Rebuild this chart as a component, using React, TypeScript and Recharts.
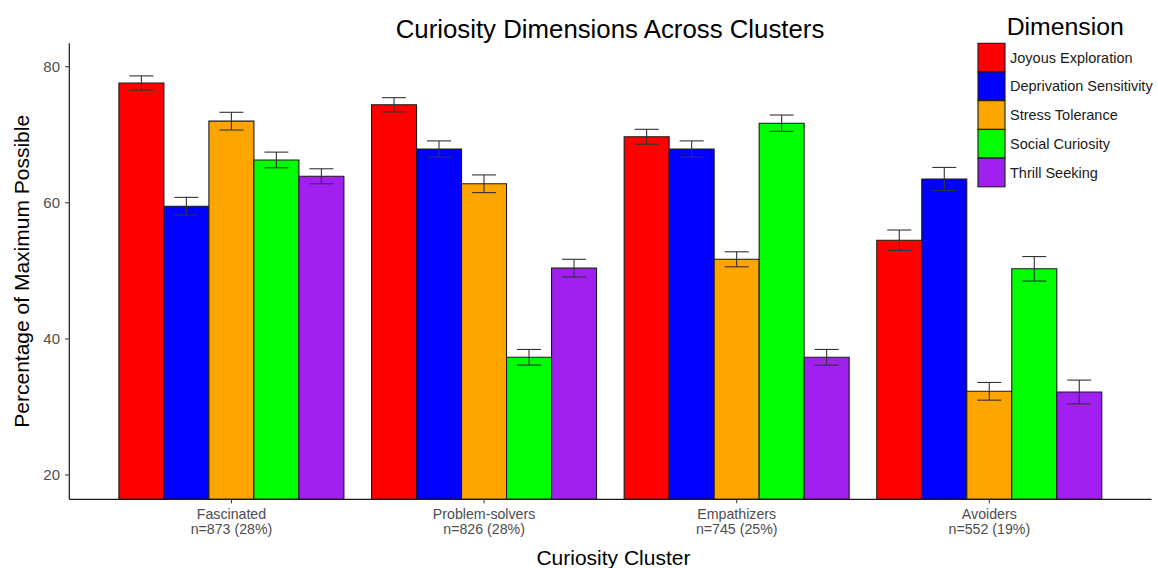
import { BarChart, Bar, XAxis, YAxis, ErrorBar, Legend } from 'recharts';

const FONT = '"Liberation Sans", Arial, Helvetica, sans-serif';

// clusters on the x axis
const clusters = ['Fascinated', 'Problem-solvers', 'Empathizers', 'Avoiders'];
const clusterSizes = ['n=873 (28%)', 'n=826 (28%)', 'n=745 (25%)', 'n=552 (19%)'];

// dimensions (fill groups)
const dimensions = [
  'Joyous Exploration',
  'Deprivation Sensitivity',
  'Stress Tolerance',
  'Social Curiosity',
  'Thrill Seeking',
];
const dimensionColors = ['#FF0000', '#0000FF', '#FFA500', '#00FF00', '#A020F0'];

// means per cluster (% of max possible) and error half-widths
const joyousExploration = [77.6, 74.4, 69.7, 54.5];
const joyousErr = [1.05, 1.05, 1.1, 1.5];
const deprivationSensitivity = [59.5, 67.9, 67.9, 63.5];
const deprivationErr = [1.3, 1.2, 1.2, 1.7];
const stressTolerance = [72.0, 62.8, 51.7, 32.3];
const stressErr = [1.3, 1.3, 1.1, 1.3];
const socialCuriosity = [66.3, 37.3, 71.7, 50.3];
const socialErr = [1.15, 1.15, 1.2, 1.8];
const thrillSeeking = [63.9, 50.4, 37.3, 32.2];
const thrillErr = [1.1, 1.3, 1.15, 1.75];

const yTicks = [20, 40, 60, 80];

const means = [joyousExploration, deprivationSensitivity, stressTolerance, socialCuriosity, thrillSeeking];
const errs = [joyousErr, deprivationErr, stressErr, socialErr, thrillErr];

const data = clusters.map((c, ci) => {
  const row: Record<string, string | number> = { cluster: c };
  means.forEach((m, di) => {
    row[`d${di}`] = m[ci];
    row[`e${di}`] = errs[di][ci];
  });
  return row;
});

function ClusterTick({ x, y, payload }: any) {
  const i = clusters.indexOf(payload.value);
  return (
    <text x={x} y={y} textAnchor="middle" fill="#4d4d4d" fontSize={14.2} fontFamily={FONT}>
      <tspan x={x} dy={13.2}>{payload.value}</tspan>
      <tspan x={x} dy={15.9}>{clusterSizes[i]}</tspan>
    </text>
  );
}

function renderLegend({ payload }: any) {
  const rowH = 28.7;
  // keep the dimension order (legend payload comes sorted by name)
  const colorOf = (name: string, i: number) =>
    (payload || []).find((p: any) => p.value === name)?.color ?? dimensionColors[i];
  return (
    <svg width={181} height={200} style={{ display: 'block' }}>
      <text x={29.7} y={35} fontSize={24.8} fontFamily={FONT} fill="#000">
        Dimension
      </text>
      {dimensions.map((name, i) => (
        <g key={name}>
          <rect x={1} y={43.3 + i * rowH} width={27} height={rowH} fill={colorOf(name, i)} stroke="#1a1a1a" strokeWidth={1.1} />
          <text x={33} y={43.3 + i * rowH + 19.4} fontSize={14.5} fontFamily={FONT} fill="#1a1a1a">
            {name}
          </text>
        </g>
      ))}
    </svg>
  );
}

export default function App() {
  return (
    <div style={{ position: 'absolute', left: 0, top: 0, width: 1158, height: 568, background: '#fff' }}>
      <svg
        width={1158}
        height={50}
        style={{ position: 'absolute', left: 0, top: 0, pointerEvents: 'none' }}
      >
        <text x={610} y={37.5} textAnchor="middle" fontSize={25.8} fontFamily={FONT} fill="#000">
          Curiosity Dimensions Across Clusters
        </text>
      </svg>
      <BarChart
        width={1158}
        height={568}
        data={data}
        margin={{ top: 43.3, right: 6.5, bottom: 0, left: 19.3 }}
        barCategoryGap={13.75}
        barGap={0}
        style={{ fontFamily: FONT }}
      >
        <XAxis
          dataKey="cluster"
          height={68.7}
          padding={{ left: 35.85, right: 35.85 }}
          axisLine={{ stroke: '#1a1a1a', strokeWidth: 1.2 }}
          tickLine={{ stroke: '#333', strokeWidth: 1 }}
          tickSize={4}
          tickMargin={2}
          interval={0}
          tick={<ClusterTick />}
          label={(props: any) => {
            const vb = props.viewBox;
            return (
              <text
                x={vb.x + vb.width / 2 + 3}
                y={565}
                textAnchor="middle"
                fontSize={21}
                fontFamily={FONT}
                fill="#000"
              >
                Curiosity Cluster
              </text>
            );
          }}
        />
        <YAxis
          type="number"
          width={50}
          domain={[16.43, 83.44]}
          allowDataOverflow
          ticks={yTicks}
          axisLine={{ stroke: '#1a1a1a', strokeWidth: 1.2 }}
          tickLine={{ stroke: '#333', strokeWidth: 1 }}
          tickSize={4.3}
          tickMargin={5}
          tick={{ fontSize: 15, fill: '#4d4d4d', fontFamily: FONT }}
          label={(props: any) => {
            const vb = props.viewBox;
            const cy = vb.y + vb.height / 2;
            return (
              <text
                x={29}
                y={cy}
                transform={`rotate(-90 29 ${cy})`}
                textAnchor="middle"
                fontSize={21}
                fontFamily={FONT}
                fill="#000"
              >
                Percentage of Maximum Possible
              </text>
            );
          }}
        />
        <Legend
          layout="vertical"
          align="center"
          verticalAlign="middle"
          content={renderLegend}
          wrapperStyle={{ left: 977, top: 0, width: 181, height: 200 }}
        />
        {dimensions.map((name, i) => (
          <Bar
            key={name}
            dataKey={`d${i}`}
            name={name}
            fill={dimensionColors[i]}
            stroke="#1a1a1a"
            strokeWidth={1.1}
            isAnimationActive={false}
          >
            <ErrorBar dataKey={`e${i}`} width={12} stroke="#333" strokeWidth={1.1} direction="y" />
          </Bar>
        ))}
      </BarChart>
    </div>
  );
}
